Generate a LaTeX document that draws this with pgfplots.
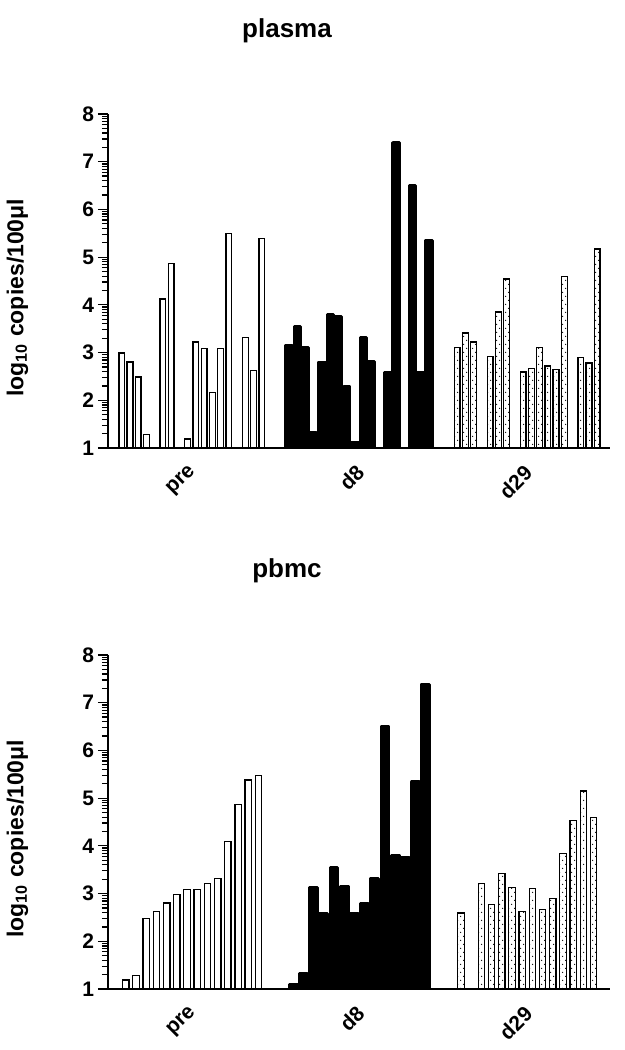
\documentclass[border=0pt]{standalone}
\usepackage{fontspec}
\setmainfont{Liberation Sans}
\usepackage{pgfplots}
\pgfplotsset{compat=1.18}
\usetikzlibrary{patterns}

% sparse dot fill for the d29 bars
\pgfdeclarepatternformonly{sparse dots}{\pgfqpoint{-0.5pt}{-0.5pt}}{\pgfqpoint{3.5pt}{4.5pt}}{\pgfqpoint{3pt}{4pt}}{%
  \pgfpathcircle{\pgfqpoint{0.8pt}{0.8pt}}{0.33pt}%
  \pgfpathcircle{\pgfqpoint{2.3pt}{2.8pt}}{0.33pt}%
  \pgfusepath{fill}}

\pgfplotsset{
  copies/.style={
    scale only axis, width=251pt, height=167pt,
    axis x line*=bottom, axis y line*=left,
    axis line style={line width=1pt},
    axis on top,
    ymin=1, ymax=8, ytick={1,...,8},
    minor ytick={1.301,1.477,1.602,1.699,1.778,1.845,1.903,1.954,
      2.301,2.477,2.602,2.699,2.778,2.845,2.903,2.954,
      3.301,3.477,3.602,3.699,3.778,3.845,3.903,3.954,
      4.301,4.477,4.602,4.699,4.778,4.845,4.903,4.954,
      5.301,5.477,5.602,5.699,5.778,5.845,5.903,5.954,
      6.301,6.477,6.602,6.699,6.778,6.845,6.903,6.954,
      7.301,7.477,7.602,7.699,7.778,7.845,7.903,7.954},
    tick align=outside,
    major tick length=5pt, minor tick length=3pt,
    every tick/.style={black, line width=0.6pt},
    x tick style={draw=none},
    xticklabels={pre,d8,d29},
    /pgf/number format/assume math mode=true,
    yticklabel style={font=\bfseries\fontsize{10.5}{12}\selectfont, xshift=1.5pt},
    xticklabel style={font=\bfseries\fontsize{10.5}{12}\selectfont,
      rotate=45, anchor=north east, yshift=3pt},
    ylabel={log\textsubscript{10} copies/100μl},
    every axis y label/.style={at={(axis description cs:-0.145,0.45)},
      rotate=90, anchor=south,
      font=\bfseries\fontsize{11.5}{13}\selectfont},
  },
  open/.style={ybar, bar shift=0pt, draw=black, fill=white, line width=0.65pt},
  solid/.style={ybar, bar shift=0pt, draw=black, fill=black, line width=1.6pt, line join=round},
  dotted/.style={ybar, bar shift=0pt, draw=black, fill=white,
    postaction={pattern=sparse dots}, line width=0.65pt},
}

\begin{document}
\begin{tikzpicture}
\useasboundingbox (0,0) rectangle (312.5pt,525pt);

% plasma
\begin{axis}[copies, at={(54pt,301pt)}, anchor=south west,
  xmin=-1.67, xmax=59.25, xtick={8.5,28.8,49.2}]
\addplot[open, bar width=0.7] coordinates {
  (0,2.99) (1,2.80) (2,2.49) (3,1.29) (5,4.12) (6,4.87) (8,1.19) (9,3.22)
  (10,3.09) (11,2.17) (12,3.09) (13,5.50) (15,3.32) (16,2.63) (17,5.39)};
\addplot[solid, bar width=0.75] coordinates {
  (20.3,3.15) (21.3,3.55) (22.3,3.11) (23.3,1.33) (24.3,2.80) (25.3,3.80)
  (26.3,3.76) (27.3,2.28) (28.3,1.12) (29.3,3.32) (30.3,2.82) (32.3,2.59)
  (33.3,7.40) (35.3,6.50) (36.3,2.57) (37.3,5.35)};
\addplot[dotted, bar width=0.7] coordinates {
  (40.7,3.11) (41.7,3.41) (42.7,3.22) (44.7,2.92) (45.7,3.85) (46.7,4.54)
  (48.7,2.59) (49.7,2.67) (50.7,3.11) (51.7,2.72) (52.7,2.65) (53.7,4.60)
  (55.7,2.90) (56.7,2.78) (57.7,5.17)};
\end{axis}

% pbmc
\begin{axis}[copies, at={(54pt,30.5pt)}, anchor=south west,
  xmin=-1.75, xmax=47.46, xtick={6.5,22.9,39.35}]
\addplot[open, bar width=0.63] coordinates {
  (0,1.19) (1,1.29) (2,2.48) (3,2.63) (4,2.80) (5,2.98) (6,3.09)
  (7,3.09) (8,3.21) (9,3.32) (10,4.09) (11,4.86) (12,5.38) (13,5.47)};
\addplot[solid, bar width=0.75] coordinates {
  (16.4,1.10) (17.4,1.33) (18.4,3.13) (19.4,2.59) (20.4,3.55) (21.4,3.15)
  (22.4,2.59) (23.4,2.80) (24.4,3.32) (25.4,6.49) (26.4,3.80) (27.4,3.75)
  (28.4,5.34) (29.4,7.39)};
\addplot[dotted, bar width=0.63] coordinates {
  (32.85,2.59) (34.85,3.21) (35.85,2.77) (36.85,3.42) (37.85,3.13)
  (38.85,2.63) (39.85,3.11) (40.85,2.67) (41.85,2.90) (42.85,3.84)
  (43.85,4.53) (44.85,5.15) (45.85,4.59)};
\end{axis}

\node[anchor=base, font=\bfseries\fontsize{13}{15}\selectfont] at (143.5pt,506pt) {plasma};
\node[anchor=base, font=\bfseries\fontsize{13}{15}\selectfont] at (143.5pt,236pt) {pbmc};
\end{tikzpicture}
\end{document}
